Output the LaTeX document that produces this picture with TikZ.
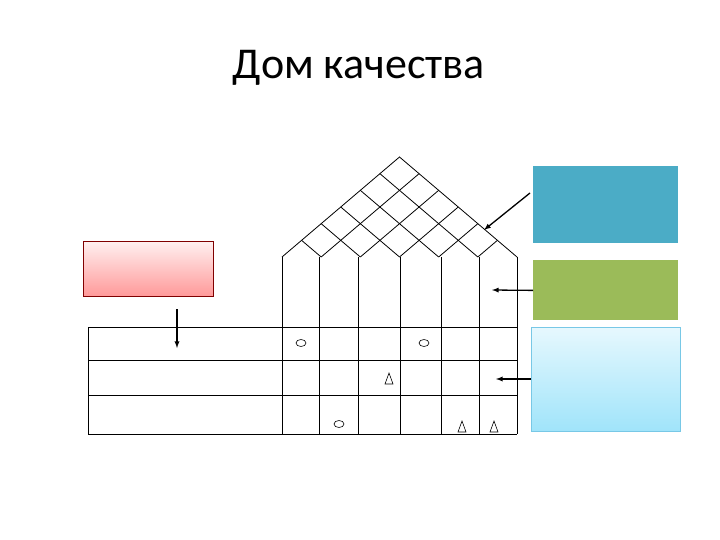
\documentclass[tikz,border=0pt]{standalone}
\usepackage{fontspec}
\setmainfont{Carlito}
\usetikzlibrary{calc}
\begin{document}
\begin{tikzpicture}[x=1pt,y=-1pt,line width=0.8pt,
  arr/.style={-latex,line width=1.3pt}]
\useasboundingbox (0,0) rectangle (720,540);
\node (title) at (359,68) {\fontsize{44}{46}\selectfont Дом качества};
% boxes
\node[draw=red!50!black,top color=red!6,bottom color=red!40,minimum width=130pt,minimum height=55pt,anchor=north west,inner sep=0pt] (pink) at (83,241) {};
\node[fill={rgb,255:red,75;green,172;blue,198},minimum width=145pt,minimum height=77pt,anchor=north west,inner sep=0pt] (blue) at (533,166) {};
\node[fill={rgb,255:red,155;green,187;blue,89},minimum width=145pt,minimum height=60pt,anchor=north west,inner sep=0pt] (green) at (533,260) {};
\node[draw={rgb,255:red,120;green,200;blue,230},top color={rgb,255:red,230;green,248;blue,254},bottom color={rgb,255:red,160;green,228;blue,250},minimum width=149pt,minimum height=104pt,anchor=north west,inner sep=0pt] (lblue) at (531,327) {};
% house walls and columns
\foreach \x in {282,319,358,400,441,479,517} \draw (\x,257) -- (\x,434);
\draw (88,327) -- (517,327);
\draw (88,360) -- (517,360);
\draw (88,395) -- (517,395);
\draw (88,434) -- (517,434);
\draw (88,327) -- (88,434);
% roof
\coordinate (apex) at (399.5,157);
\draw (282,257) -- (apex) -- (517,257);
\foreach \i in {1,...,5}{
  \draw ($(282,257)!\i/6!(517,257)$) -- ($(apex)!\i/6!(517,257)$);
  \draw ($(282,257)!\i/6!(517,257)$) -- ($(282,257)!\i/6!(apex)$);
}
% symbols
\draw[line width=0.6pt] (301,343) ellipse (5pt and 3.5pt);
\draw[line width=0.6pt] (424,343) ellipse (5pt and 3.5pt);
\draw[line width=0.6pt] (339,424) ellipse (5pt and 3.5pt);
\foreach \p in {(389,379),(462,427),(494,427)}
  \draw[line width=0.6pt] \p ++(-4,5) -- ++(8,0) -- ++(-4,-11) -- cycle;
% arrows
\coordinate (a1) at (484,230);
\coordinate (a2) at (492,290);
\coordinate (a3) at (496,379);
\coordinate (a4) at (177,348);
\draw[arr] (530,193) -- (a1);
\draw[arr] (green.west) -- (a2);
\draw[arr] (lblue.west |- a3) -- (a3);
\draw[arr] (177,309) -- (a4);
\end{tikzpicture}
\end{document}
